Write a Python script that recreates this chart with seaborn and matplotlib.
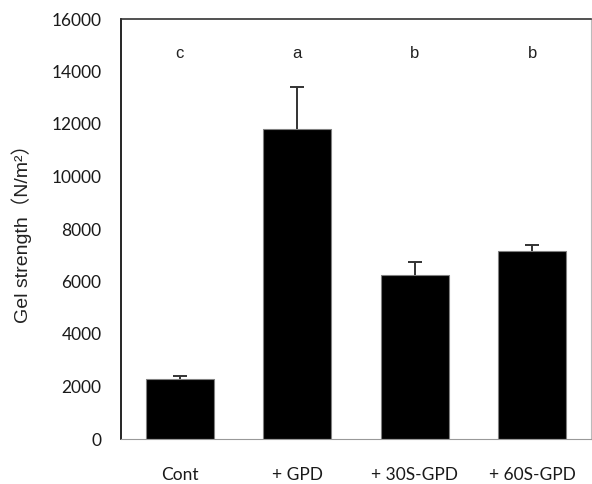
import pandas as pd
import matplotlib
matplotlib.use("Agg")
import matplotlib.pyplot as plt
import seaborn as sns

# данные
groups = ['Cont', '+ GPD', '+ 30S-GPD', '+ 60S-GPD']
strength = [2270, 11800, 6260, 7170]
sd = [140, 1620, 480, 230]
letters = ['c', 'a', 'b', 'b']
letter_y = 14700

df = pd.DataFrame({'group': groups, 'strength': strength})

sns.set_style("white")
plt.rcParams['font.family'] = ['Liberation Sans', 'DejaVu Sans']

fig = plt.figure(figsize=(5.92, 4.84), dpi=100)
ax = fig.add_axes([121 / 592, 1 - 439 / 484, 470 / 592, 420 / 484])

sns.barplot(
    x='group',
    y='strength',
    data=df,
    color='black',
    width=0.58,
    edgecolor='#808080',
    linewidth=0.8,
    ax=ax
)

# только верхняя половина планки погрешности
eb = ax.errorbar(
    range(len(groups)), strength,
    yerr=[[0] * len(sd), sd],
    fmt='none', ecolor='#333333', elinewidth=1.4,
    capsize=5, capthick=1.4
)
eb[1][0].set_visible(False)

for i, lt in enumerate(letters):
    ax.text(i, letter_y, lt, ha='center', va='center', fontsize=12, color='#222222')

ax.set_xlim(-0.5, 3.5)
ax.set_ylim(0, 16000)
ax.set_yticks(range(0, 16001, 2000))
ax.set_xlabel('')
ax.set_ylabel('Gel strength（N/m²）', fontsize=14, labelpad=14,
              family=['Liberation Sans', 'Noto Sans CJK JP', 'DejaVu Sans'],
              color='#222222')

ax.tick_params(axis='y', direction='in', length=5, width=1, color='black',
               labelsize=12.5, pad=14)
ax.tick_params(axis='x', length=0, labelsize=12.5, pad=20)
for lbl in ax.get_yticklabels() + ax.get_xticklabels():
    lbl.set_family(['Lato', 'DejaVu Sans'])
    lbl.set_color('#1a1a1a')

ax.spines['left'].set_color('black')
ax.spines['left'].set_linewidth(1.2)
ax.spines['top'].set_color('#333333')
ax.spines['top'].set_linewidth(1.2)
ax.spines['bottom'].set_color('#999999')
ax.spines['right'].set_color('#bbbbbb')

fig.savefig('out.png', dpi=100)
